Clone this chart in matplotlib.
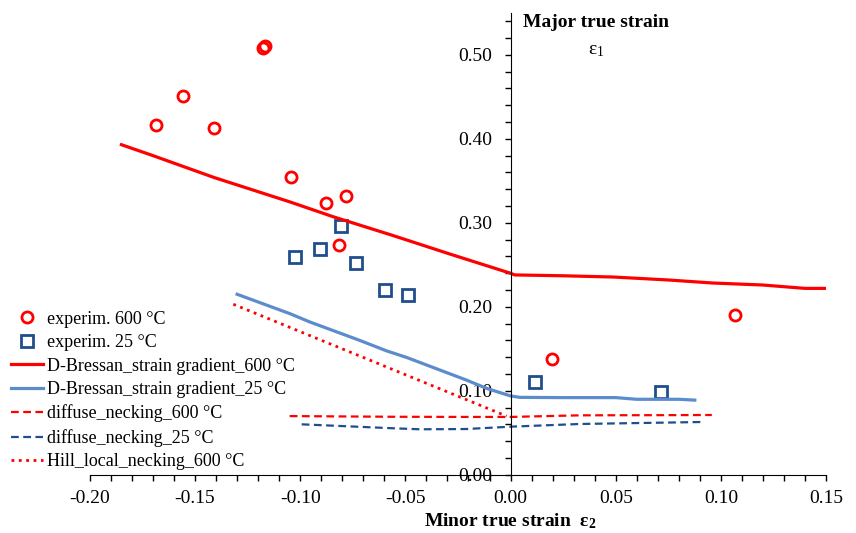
import matplotlib
matplotlib.use("Agg")
import matplotlib.pyplot as plt
from matplotlib.ticker import MultipleLocator, FormatStrFormatter

plt.rcParams['font.family'] = ['Liberation Serif', 'DejaVu Serif']
plt.rcParams['mathtext.fontset'] = 'custom'
plt.rcParams['mathtext.rm'] = 'Liberation Serif'
plt.rcParams['mathtext.it'] = 'Liberation Serif:italic'
plt.rcParams['mathtext.bf'] = 'Liberation Serif:bold'

# experimental points
exp600_x = [-0.1686, -0.1556, -0.1409, -0.1177, -0.1168, -0.1046, -0.0878,
            -0.0784, -0.0817, 0.0198, 0.1067]
exp600_y = [0.4165, 0.4513, 0.4130, 0.5083, 0.5107, 0.3548, 0.3234,
            0.3325, 0.2735, 0.1378, 0.1908]
exp25_x = [-0.1025, -0.0906, -0.0805, -0.0737, -0.0596, -0.0488, 0.0117, 0.0714]
exp25_y = [0.2593, 0.2692, 0.2957, 0.2526, 0.2205, 0.2138, 0.1105, 0.0982]

# D-Bressan strain gradient curves
bres600_x = [-0.185, -0.170, -0.141, -0.105, -0.084, -0.056, -0.029, 0.0,
             0.002, 0.025, 0.049, 0.075, 0.096, 0.12, 0.14, 0.151]
bres600_y = [0.393, 0.380, 0.354, 0.325, 0.307, 0.285, 0.263, 0.240,
             0.238, 0.237, 0.2355, 0.232, 0.2284, 0.226, 0.222, 0.222]
bres25_x = [-0.130, -0.105, -0.0954, -0.0716, -0.0589, -0.0494, -0.0209,
            -0.0114, 0.0, 0.0044, 0.025, 0.05, 0.06, 0.08, 0.0876]
bres25_y = [0.215, 0.192, 0.182, 0.160, 0.1476, 0.1398, 0.1128,
            0.103, 0.094, 0.0923, 0.092, 0.092, 0.090, 0.090, 0.089]

# diffuse necking curves
diff600_x = [-0.105, -0.056, -0.02, 0.0, 0.033, 0.07, 0.0957]
diff600_y = [0.070, 0.0692, 0.069, 0.069, 0.0709, 0.0711, 0.0713]
diff25_x = [-0.0993, -0.0558, -0.0431, -0.021, 0.0, 0.033, 0.07, 0.0914]
diff25_y = [0.0602, 0.0555, 0.0543, 0.0546, 0.0574, 0.0606, 0.0621, 0.063]

# Hill local necking
hill600_x = [-0.1318, -0.0019]
hill600_y = [0.2031, 0.0700]

red = '#FF0000'
blue = '#5B8CCB'
navy = '#1F4E8C'

fig = plt.figure(figsize=(8.56, 5.33), dpi=100)
ax = fig.add_axes([0.105, 0.109, 0.86, 0.867])

ax.plot(exp600_x, exp600_y, 'o', ms=8, mfc='none', mec=red, mew=2,
        label='experim. 600 °C')
ax.plot(exp25_x, exp25_y, 's', ms=8, mfc='none', mec=navy, mew=2,
        label='experim. 25 °C')
ax.plot(bres600_x, bres600_y, '-', color=red, lw=2.3,
        label='D-Bressan_strain gradient_600 °C')
ax.plot(bres25_x, bres25_y, '-', color=blue, lw=2.3,
        label='D-Bressan_strain gradient_25 °C')
ax.plot(diff600_x, diff600_y, '--', color=red, lw=1.6, dashes=(3.5, 2),
        label='diffuse_necking_600 °C')
ax.plot(diff25_x, diff25_y, '--', color=navy, lw=1.6, dashes=(3.5, 2),
        label='diffuse_necking_25 °C')
ax.plot(hill600_x, hill600_y, ':', color=red, lw=2,
        label='Hill_local_necking_600 °C')

ax.set_xlim(-0.2, 0.15)
ax.set_ylim(0, 0.55)

ax.spines['left'].set_position(('data', 0))
ax.spines['top'].set_visible(False)
ax.spines['right'].set_visible(False)

ax.xaxis.set_major_locator(MultipleLocator(0.05))
ax.xaxis.set_minor_locator(MultipleLocator(0.01))
ax.yaxis.set_major_locator(MultipleLocator(0.1))
ax.yaxis.set_minor_locator(MultipleLocator(0.02))
ax.xaxis.set_major_formatter(FormatStrFormatter('%.2f'))
ax.yaxis.set_major_formatter(FormatStrFormatter('%.2f'))
ax.tick_params(which='both', direction='out', length=4, width=1)
ax.tick_params(axis='y', which='major', pad=9, labelsize=14)
ax.tick_params(axis='x', which='major', pad=7, labelsize=14)

fig.text(510 / 856, 1 - 521 / 533, r'Minor true strain  $\mathregular{\varepsilon_2}$',
         ha='center', va='center', fontsize=14, fontweight='bold')
fig.text(596 / 856, 1 - 22 / 533, 'Major true strain', ha='center', va='center',
         fontsize=14, fontweight='bold')
fig.text(596 / 856, 1 - 50 / 533, r'$\mathregular{\varepsilon_1}$', ha='center',
         va='center', fontsize=14)

ax.legend(loc='upper left', bbox_to_anchor=(7 / 856, 1 - 307 / 533),
          bbox_transform=fig.transFigure, frameon=False, fontsize=13,
          handlelength=1.8, handletextpad=0.2, labelspacing=0.36,
          borderaxespad=0, borderpad=0.2)

fig.savefig('out.png', dpi=100)
